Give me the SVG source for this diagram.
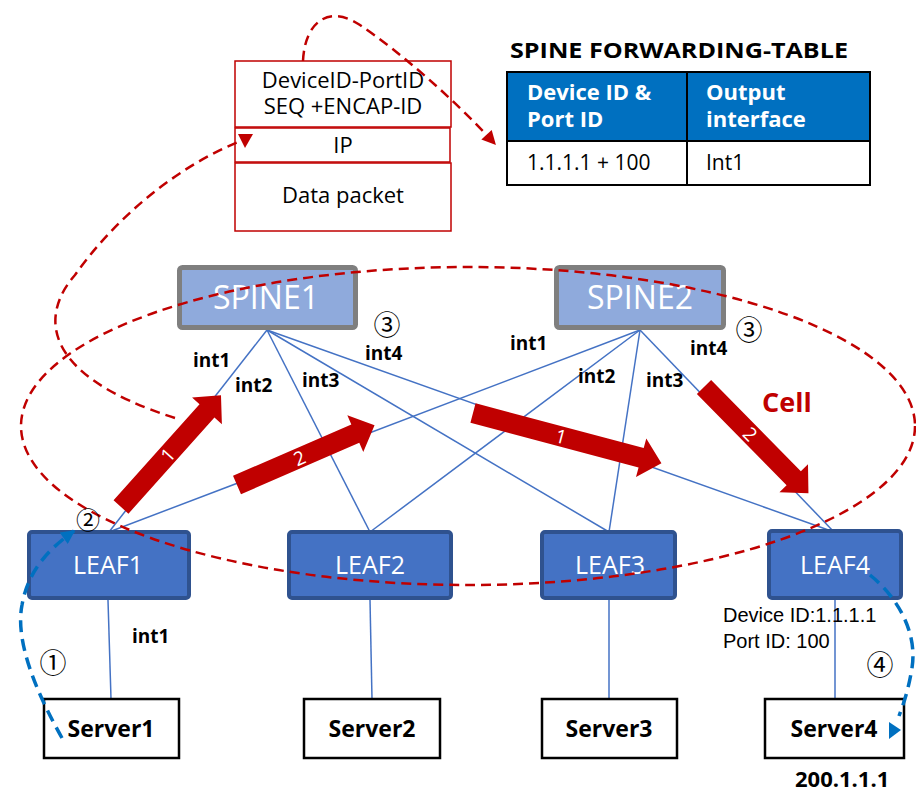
<svg xmlns="http://www.w3.org/2000/svg" width="916" height="792" viewBox="0 0 916 792">
<style>
text{font-family:"Open Sans","Noto Sans","DejaVu Sans",sans-serif;fill:#000}
.spine rect{fill:#8faadc;stroke:#7f7f7f;stroke-width:5}
.spine text{fill:#fff;font-size:32px;text-anchor:middle}
.leaf rect{fill:#4472c4;stroke:#2f528f;stroke-width:4}
.leaf text{fill:#fff;font-size:25px;text-anchor:middle}
.srv rect{fill:#fff;stroke:#000;stroke-width:2.5}
.srv text{font-size:23px;font-weight:bold;text-anchor:middle}
.link{stroke:#4472c4;stroke-width:1.5;fill:none}
.lbl{font-size:19px;font-weight:bold}
.circ{font-family:"Noto Sans CJK SC","Noto Sans CJK JP",sans-serif;font-size:27px;text-anchor:middle}
.rdash{fill:none;stroke:#c00000;stroke-width:2.5;stroke-dasharray:10 6}
.bdash{fill:none;stroke:#0070c0;stroke-width:3.5;stroke-dasharray:12 7}
.cell path{fill:#c00000}
.cell text{fill:#fff;font-size:19px;text-anchor:middle}
.pkt rect{fill:#fff;stroke:#c00000;stroke-width:1.5}
.pkt text{font-size:22px;text-anchor:middle}
.tbl text{font-size:21px}
.tbl .h{fill:#fff;font-weight:bold;font-size:22px}
.dev{font-family:"Liberation Sans",Arial,sans-serif;font-size:20px}
</style>
<defs>
<marker id="rArr" viewBox="0 0 10 10" refX="9" refY="5" markerWidth="16" markerHeight="14" markerUnits="userSpaceOnUse" orient="auto">
<path d="M0,0 L10,5 L0,10 z" fill="#c00000"/>
</marker>
<marker id="bArr" viewBox="0 0 10 10" refX="9" refY="5" markerWidth="16" markerHeight="14" markerUnits="userSpaceOnUse" orient="auto">
<path d="M0,0 L10,5 L0,10 z" fill="#0070c0"/>
</marker>
</defs>

<g id="links-under">
<line class="link" x1="267" y1="330" x2="109" y2="532"/>
<line class="link" x1="267" y1="330" x2="370" y2="532"/>
<line class="link" x1="267" y1="330" x2="609" y2="532"/>
<line class="link" x1="267" y1="330" x2="834" y2="532"/>
<line class="link" x1="640" y1="330" x2="109" y2="532"/>
<line class="link" x1="640" y1="330" x2="370" y2="532"/>
<line class="link" x1="640" y1="330" x2="609" y2="532"/>
<line class="link" x1="640" y1="330" x2="834" y2="532"/>
<line class="link" x1="108" y1="600" x2="111" y2="699"/>
<line class="link" x1="370" y1="600" x2="372" y2="699"/>
<line class="link" x1="609" y1="600" x2="609" y2="699"/>
<line class="link" x1="835" y1="600" x2="835" y2="699"/>
</g>

<g id="packet" class="pkt">
<rect x="235" y="61" width="216" height="66"/>
<rect x="235" y="128" width="215" height="34"/>
<rect x="235" y="163" width="216" height="68"/>
<text x="343" y="88">DeviceID-PortID</text>
<text x="343" y="114">SEQ +ENCAP-ID</text>
<text x="343" y="153">IP</text>
<text x="343" y="203">Data packet</text>
</g>

<g id="table" class="tbl">
<text x="510" y="58" textLength="338" lengthAdjust="spacingAndGlyphs" style="font-size:22px;font-weight:bold">SPINE FORWARDING-TABLE</text>
<rect x="507" y="72" width="363" height="69" fill="#0070c0" stroke="#000" stroke-width="2"/>
<rect x="507" y="141" width="363" height="44" fill="#fff" stroke="#000" stroke-width="2"/>
<line x1="687" y1="72" x2="687" y2="185" stroke="#000" stroke-width="2"/>
<text class="h" x="527" y="100">Device ID &amp;</text>
<text class="h" x="527" y="127">Port ID</text>
<text class="h" x="706" y="100">Output</text>
<text class="h" x="706" y="127">interface</text>
<text x="527" y="170">1.1.1.1 + 100</text>
<text x="706" y="170">Int1</text>
</g>

<g id="spine1" class="spine">
<rect x="179.5" y="267.5" width="176" height="60" rx="3"/>
<text x="266" y="309">SPINE1</text>
</g>
<g id="spine2" class="spine">
<rect x="556.5" y="267.5" width="167" height="60" rx="3"/>
<text x="640" y="309">SPINE2</text>
</g>

<g id="leaf1" class="leaf">
<rect x="29" y="532" width="160" height="66" rx="3"/>
<text x="108" y="574">LEAF1</text>
</g>
<g id="leaf2" class="leaf">
<rect x="289" y="532" width="162" height="66" rx="3"/>
<text x="370" y="574">LEAF2</text>
</g>
<g id="leaf3" class="leaf">
<rect x="542" y="532" width="133" height="66" rx="3"/>
<text x="610" y="574">LEAF3</text>
</g>
<g id="leaf4" class="leaf">
<rect x="769" y="531" width="132" height="67" rx="3"/>
<text x="835" y="574">LEAF4</text>
</g>

<g id="server1" class="srv">
<rect x="44" y="699" width="135" height="59"/>
<text x="111" y="737">Server1</text>
</g>
<g id="server2" class="srv">
<rect x="304" y="699" width="136" height="59"/>
<text x="372" y="737">Server2</text>
</g>
<g id="server3" class="srv">
<rect x="542" y="699" width="135" height="59"/>
<text x="609" y="737">Server3</text>
</g>
<g id="server4" class="srv">
<rect x="765" y="699" width="139" height="59"/>
<text x="834" y="737">Server4</text>
</g>

<g id="connectors">
<path class="rdash" d="M303,61 C305,20 330,5 360,25 C400,52 455,100 495,144" marker-end="url(#rArr)"/>
<path class="rdash" d="M175,418 C40,375 40,315 75,275 C110,225 170,170 238,142"/>
<polygon points="238,134 253,134 245,148" fill="#c00000"/>
<ellipse class="rdash" cx="468" cy="426" rx="447" ry="159"/>
<g class="cell">
<g transform="translate(121,507) rotate(-48.2)"><path d="M0,-10 H129 V-20 L150,0 L129,20 V10 H0 Z"/><text x="70" y="7">1</text></g>
<g transform="translate(237,485) rotate(-23.5)"><path d="M0,-10 H129 V-20 L150,0 L129,20 V10 H0 Z"/><text x="68" y="7">2</text></g>
<g transform="translate(473,413) rotate(14.9)"><path d="M0,-10 H174 V-20 L195,0 L174,20 V10 H0 Z"/><text x="91" y="7">1</text></g>
<g transform="translate(704,387) rotate(45.5)"><path d="M0,-10 H128 V-20 L149,0 L128,20 V10 H0 Z"/><text x="66" y="7">2</text></g>
</g>
<path class="bdash" d="M62,738 C35,690 15,640 22,605 C28,570 50,548 74,531" marker-end="url(#bArr)"/>
<path class="bdash" d="M870,575 C895,595 918,630 912,668 C908,692 903,705 899,716"/>
<polygon points="889,722 889,739 901,730" fill="#0070c0"/>
</g>

<g id="labels">
<text class="lbl" x="193" y="367">int1</text>
<text class="lbl" x="235" y="392">int2</text>
<text class="lbl" x="302" y="387">int3</text>
<text class="lbl" x="365" y="360">int4</text>
<text class="lbl" x="510" y="350">int1</text>
<text class="lbl" x="578" y="383">int2</text>
<text class="lbl" x="646" y="387">int3</text>
<text class="lbl" x="690" y="355">int4</text>
<text class="lbl" x="132" y="643">int1</text>
<text x="762" y="412" style="font-size:27px;font-weight:bold;fill:#c00000">Cell</text>
<text class="circ" x="387" y="335">③</text>
<text class="circ" x="749" y="340">③</text>
<text class="circ" x="88" y="529" style="font-size:24px">②</text>
<text class="circ" x="53" y="673">①</text>
<text class="circ" x="880" y="675">④</text>
<text class="dev" x="723" y="622">Device ID:1.1.1.1</text>
<text class="dev" x="723" y="648">Port ID: 100</text>
<text x="795" y="787" style="font-size:22px;font-weight:bold">200.1.1.1</text>
</g>
</svg>
